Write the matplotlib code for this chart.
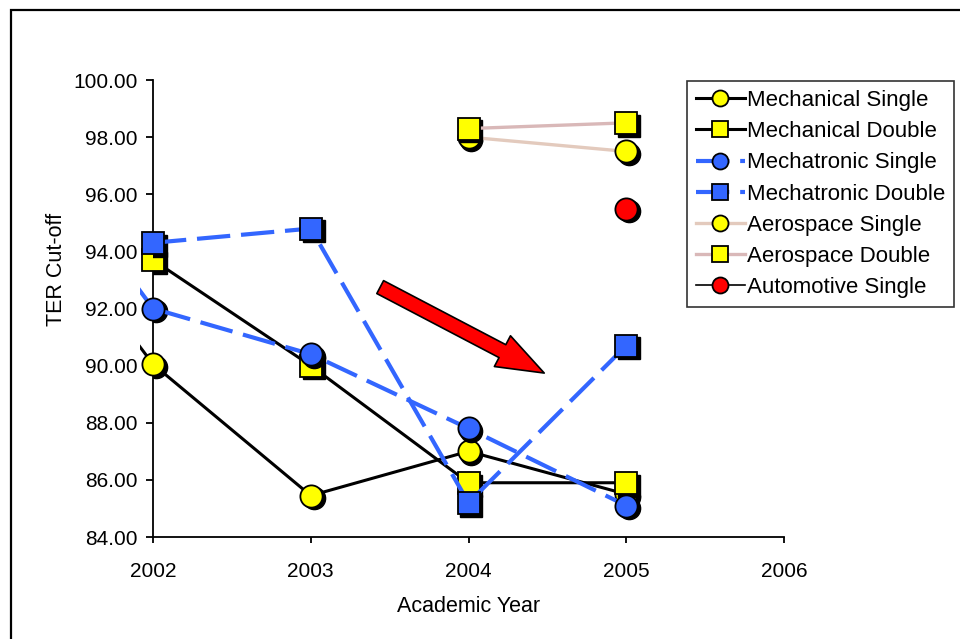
import matplotlib
matplotlib.use('Agg')
import matplotlib.pyplot as plt
import matplotlib.transforms as mtransforms
from matplotlib.patches import FancyArrowPatch
import numpy as np

plt.rcParams['font.family'] = ['Liberation Sans', 'DejaVu Sans']

# ---- data ----
years = [2001, 2002, 2003, 2004, 2005]
nan = np.nan
mech_single = [97.4, 90.05, 85.45, 87.0, 85.5]
mech_double = [nan, 93.7, 90.0, 85.9, 85.9]
mtr_single = [99.5, 92.0, 90.4, 87.8, 85.1]
mtr_double = [nan, 94.3, 94.8, 85.2, 90.7]
aero_single = [nan, nan, nan, 98.0, 97.5]
aero_double = [nan, nan, nan, 98.3, 98.5]
auto_single = [nan, nan, nan, nan, 95.5]

x_ticks = [2002, 2003, 2004, 2005, 2006]
y_ticks = np.arange(84, 100.01, 2)

# ---- series styles ----
BLUE = '#3366FF'
series = [
    ('Mechanical Single', mech_single, dict(color='black', lw=2.2, ls='-', marker='o')),
    ('Mechanical Double', mech_double, dict(color='black', lw=2.2, ls='-', marker='s')),
    ('Mechatronic Single', mtr_single, dict(color=BLUE, lw=3.0, ls=(0, (8, 2.6)), marker='o')),
    ('Mechatronic Double', mtr_double, dict(color=BLUE, lw=3.0, ls=(0, (8, 2.6)), marker='s')),
    ('Aerospace Single', aero_single, dict(color='#E3CABD', lw=2.4, ls='-', marker='o')),
    ('Aerospace Double', aero_double, dict(color='#D9B8B8', lw=2.4, ls='-', marker='s')),
    ('Automotive Single', auto_single, dict(color='black', lw=1.2, ls='-', marker='o')),
]
FACE = {'Mechatronic Single': BLUE, 'Mechatronic Double': BLUE,
        'Automotive Single': '#FF0000'}

fig = plt.figure(figsize=(9.6, 6.39), dpi=100)
ax = fig.add_axes([0.1594, 0.1596, 0.6573, 0.7152])

# lines get clipped a little left of the y axis, like the original
clip = mtransforms.TransformedBbox(
    mtransforms.Bbox([[-0.02, 0.0], [1.0, 1.0]]), ax.transAxes)
shadow = ax.transData + mtransforms.ScaledTranslation(2 / 72, -2 / 72, fig.dpi_scale_trans)

for i, (name, vals, st) in enumerate(series):
    face = FACE.get(name, '#FFFF00')
    ms = 16 if st['marker'] == 'o' else 15.5
    # drop shadow of the markers
    ax.plot(years, vals, ls='none', marker=st['marker'], ms=ms, mfc='black',
            mec='black', transform=shadow, zorder=3 + i * 0.1)
    line, = ax.plot(years, vals, color=st['color'], lw=st['lw'], ls=st['ls'],
                    marker=st['marker'], ms=ms, mfc=face, mec='black', mew=1.3,
                    label=name, zorder=3.05 + i * 0.1)
    line.set_clip_box(clip)

ax.set_xlim(2002, 2006)
ax.set_ylim(84, 100)
ax.set_xticks(x_ticks)
ax.set_yticks(y_ticks)
ax.set_yticklabels([f'{v:.2f}' for v in y_ticks])
ax.spines['top'].set_visible(False)
ax.spines['right'].set_visible(False)
for sp in ('left', 'bottom'):
    ax.spines[sp].set_linewidth(1.3)
ax.tick_params(axis='y', direction='out', length=5, width=1.3, labelsize=15, pad=6)
ax.tick_params(axis='x', direction='out', length=4, width=1.3, labelsize=15, pad=14)
ax.set_xlabel('Academic Year', fontsize=15.5)
ax.set_ylabel('TER Cut-off', fontsize=15.5)
ax.xaxis.set_label_coords(0.5, -0.128)
ax.yaxis.set_label_coords(-0.137, 0.585)

# red trend arrow
arrow_tail = (2003.44, 92.75)
arrow_tip = (2004.48, 89.74)
arr = FancyArrowPatch(arrow_tail, arrow_tip,
                      arrowstyle='simple,head_length=34,head_width=25,tail_width=10.5',
                      mutation_scale=1, fc='#FF0000', ec='black', lw=1.2,
                      shrinkA=0, shrinkB=0, zorder=5)
ax.add_patch(arr)

leg = fig.legend(loc='upper left', bbox_to_anchor=(0.7156, 0.8732), borderaxespad=0,
                 fontsize=16, frameon=True, fancybox=False, edgecolor='black',
                 handlelength=2.2, handletextpad=0.1, labelspacing=0.46,
                 borderpad=0.4, markerscale=0.72)
leg.get_frame().set_linewidth(1.2)

# outer chart frame
fig.add_artist(plt.Rectangle((11 / 960, -0.05), 1.2, 1 - 10 / 639 + 0.05,
                             transform=fig.transFigure, fill=False,
                             ec='black', lw=1.6, clip_on=False))

fig.savefig('out.png', dpi=100)
